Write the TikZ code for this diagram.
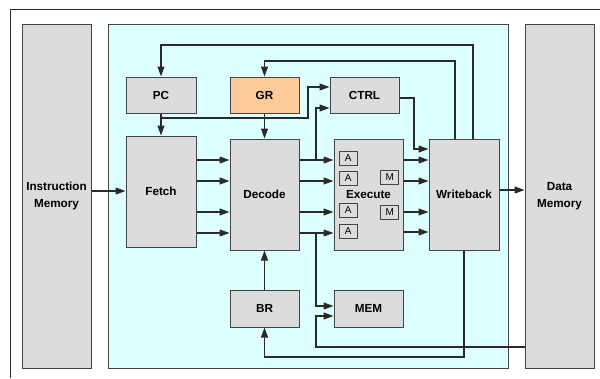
\documentclass[tikz,border=0pt]{standalone}
\usepackage{fontspec}
\setmainfont{Liberation Sans}
\usetikzlibrary{arrows.meta}
\definecolor{boxgray}{HTML}{DCDCDC}
\definecolor{bgcyan}{HTML}{DEFFFF}
\definecolor{grorange}{HTML}{FDCB9A}
\definecolor{linec}{HTML}{2A2A2A}
\definecolor{edgec}{HTML}{444444}
\tikzset{
  blk/.style={draw=edgec, line width=1pt, fill=boxgray, inner sep=0pt, font=\fontsize{11.7}{14}\selectfont\bfseries, align=center},
  mini/.style={draw=edgec, line width=0.9pt, fill=boxgray, inner sep=0pt, minimum width=18pt, minimum height=14pt, font=\fontsize{10}{11}\selectfont},
  lbl/.style={font=\fontsize{11.7}{16.5}\selectfont\bfseries, align=center},
  wire/.style={draw=linec, line width=1.2pt},
  arr/.style={wire, -{Triangle[length=10pt,width=7pt]}}
}
\begin{document}
\begin{tikzpicture}[x=1pt,y=-1pt]
\useasboundingbox (0,0) rectangle (600,378);
% outer frame
\draw[draw=linec, line width=1pt] (10,378) -- (10,9) -- (600,9);
% memories
\node[blk, minimum width=69pt, minimum height=344pt, label={[lbl]center:Instruction\\Memory}] (imem) at (56.5,196) {};
\node[blk, minimum width=69pt, minimum height=344pt, label={[lbl]center:Data\\Memory}] (dmem) at (559.5,196) {};
% cyan area
\node[draw=edgec, line width=1pt, fill=bgcyan, minimum width=400pt, minimum height=344pt, inner sep=0pt] (core) at (308,196) {};
% blocks
\node[blk, minimum width=70pt, minimum height=36pt] (pc) at (161,95) {PC};
\node[blk, fill=grorange, minimum width=69pt, minimum height=36pt] (gr) at (264.5,95) {GR};
\node[blk, minimum width=69pt, minimum height=36pt] (ctrl) at (364.5,95) {CTRL};
\node[blk, minimum width=70pt, minimum height=111pt] (fetch) at (161,191.5) {Fetch};
\node[blk, minimum width=69pt, minimum height=111pt] (decode) at (264.5,194.5) {Decode};
\node[blk, minimum width=69pt, minimum height=111pt] (exec) at (368.5,194.5) {Execute};
\node[blk, minimum width=70pt, minimum height=111pt] (wb) at (464,194.5) {Writeback};
\node[blk, minimum width=69pt, minimum height=37pt] (br) at (264.5,308.5) {BR};
\node[blk, minimum width=69pt, minimum height=37pt] (mem) at (368.5,308.5) {MEM};
% mini units
\node[mini] (a1) at (348.3,158) {A};
\node[mini] (a2) at (348.3,178) {A};
\node[mini] (a3) at (348.3,210) {A};
\node[mini] (a4) at (348.3,231) {A};
\node[mini] (m1) at (389.7,177) {M};
\node[mini] (m2) at (389.7,212) {M};
% coordinates
\coordinate (pcb) at (161,118);
\coordinate (pcr) at (308,118);
\coordinate (pcu) at (308,87);
\coordinate (ctlb) at (316,160);
\coordinate (ctlu) at (316,108);
\coordinate (ctro) at (414,98);
\coordinate (ctrd) at (414,149);
\coordinate (fb1r) at (473,45);
\coordinate (fb1l) at (161,45);
\coordinate (fb2r) at (455,61);
\coordinate (fb2l) at (264.5,61);
\coordinate (wbd) at (464,357);
\coordinate (brd) at (264.5,357);
\coordinate (mb1) at (316,233);
\coordinate (mb1d) at (316,306);
\coordinate (dmm) at (316,347);
\coordinate (dmmu) at (316,316);
% imem -> fetch
\draw[arr] (imem.east |- 0,191) -- (fetch.west |- 0,191);
% fetch -> decode, decode -> execute
\foreach \yy in {160,181,212,233} {
  \draw[arr] (fetch.east |- 0,\yy) -- (decode.west |- 0,\yy);
  \draw[arr] (decode.east |- 0,\yy) -- (exec.west |- 0,\yy);
}
\foreach \yy in {160,181,212,232} {
  \draw[arr] (exec.east |- 0,\yy) -- (wb.west |- 0,\yy);
}
% PC -> fetch, PC -> CTRL
\draw[arr] (pc.south) -- (fetch.north);
\draw[arr] (pcb) -- (pcr) -- (pcu) -- (ctrl.west |- pcu);
% decode -> CTRL
\draw[arr] (ctlb) -- (ctlu) -- (ctrl.west |- ctlu);
% GR -> decode
\draw[arr] (gr.south) -- (decode.north);
% CTRL -> WB
\draw[arr] (ctrl.east |- ctro) -- (ctro) -- (ctrd) -- (wb.west |- ctrd);
% feedback to PC and GR
\draw[arr] (wb.north -| fb1r) -- (fb1r) -- (fb1l) -- (pc.north);
\draw[arr] (wb.north -| fb2r) -- (fb2r) -- (fb2l) -- (gr.north);
% WB -> data memory
\draw[arr] (wb.east |- 0,190) -- (dmem.west |- 0,190);
% WB -> BR
\draw[arr] (wb.south -| wbd) -- (wbd) -- (brd) -- (br.south);
% BR -> decode
\draw[arr] (br.north) -- (decode.south);
% decode -> MEM
\draw[arr] (mb1) -- (mb1d) -- (mem.west |- mb1d);
% data memory -> MEM
\draw[arr] (dmem.west |- dmm) -- (dmm) -- (dmmu) -- (mem.west |- dmmu);
\end{tikzpicture}
\end{document}
